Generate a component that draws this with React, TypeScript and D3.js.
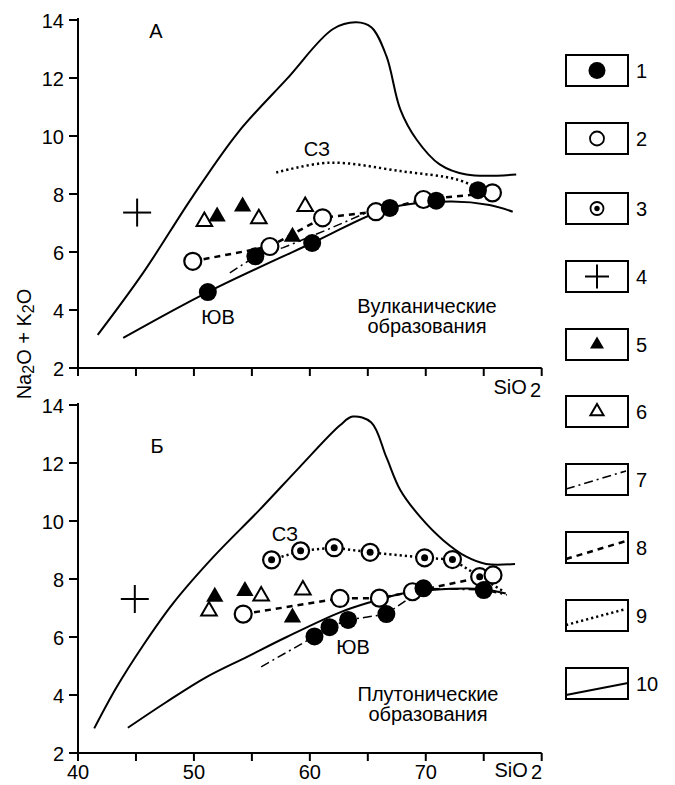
import React from 'react';
import * as d3 from 'd3';

// SiO2, Na2O+K2O
// panel A (volcanic)
const aClosed = [[51.2, 4.62], [55.3, 5.85], [60.2, 6.31], [66.9, 7.52], [70.9, 7.77], [74.5, 8.13]];
const aOpen = [[49.9, 5.68], [56.55, 6.19], [61.1, 7.18], [65.7, 7.39], [69.8, 7.81], [75.75, 8.04]];
const aTriFill = [[52.0, 7.22], [54.2, 7.57], [58.5, 6.53]];
const aTriOpen = [[50.9, 7.05], [55.6, 7.15], [59.6, 7.57]];
const aCross = [[45.1, 7.36]];
const aEnvelope = [[41.7, 3.14], [45.6, 5.27], [49.9, 7.92], [53.8, 10.12], [58.0, 11.96], [62.0, 13.69], [64.0, 13.92],
  [65.3, 13.75], [66.6, 12.76], [67.8, 10.92], [69.2, 9.88], [71.2, 9.02], [73.5, 8.67], [77.8, 8.67]];
const aSolid = [[43.9, 3.04], [51.2, 4.62], [60.2, 6.31], [66.9, 7.52], [72.1, 7.74], [75.5, 7.62], [77.5, 7.39]];
const aDashDot = [[53.1, 5.28], [55.3, 5.85], [57.7, 6.15], [61.5, 6.77], [64.9, 7.36]];
const aDotted = [[57.1, 8.74], [61.7, 9.08], [67.8, 8.79], [72.7, 8.5], [74.4, 8.22]];

// panel Б (plutonic)
const bClosed = [[60.4, 6.02], [61.7, 6.34], [63.3, 6.59], [66.6, 6.79], [69.8, 7.68], [75.0, 7.62]];
const bOpen = [[54.25, 6.79], [62.6, 7.33], [66.0, 7.34], [68.85, 7.56], [75.8, 8.14]];
const bBull = [[56.7, 8.66], [59.2, 8.97], [62.1, 9.08], [65.2, 8.92], [69.9, 8.73], [72.3, 8.67], [74.65, 8.08]];
const bTriFill = [[51.8, 7.39], [54.4, 7.59], [58.5, 6.67]];
const bTriOpen = [[51.3, 6.9], [55.8, 7.41], [59.4, 7.62]];
const bCross = [[44.9, 7.31]];
const bEnvelope = [[41.4, 2.85], [43.3, 4.25], [45.6, 5.7], [48.2, 7.16], [51.7, 8.77], [55.7, 10.4], [59.1, 11.85],
  [62.6, 13.3], [63.7, 13.6], [65.3, 13.4], [66.6, 12.2], [67.8, 11.07], [69.5, 10.15], [71.5, 9.34],
  [73.5, 8.77], [75.2, 8.52], [77.7, 8.52]];
const bSolid = [[44.3, 2.87], [47.6, 3.75], [51.0, 4.6], [54.5, 5.3], [58.0, 6.0], [62.6, 6.85], [65.2, 7.2],
  [68.0, 7.5], [70.5, 7.62], [74.9, 7.65], [76.9, 7.5]];
const bDashDot = [[55.8, 4.97], [60.4, 6.02], [61.7, 6.34], [63.3, 6.59], [66.6, 6.79], [69.8, 7.68], [75.0, 7.62], [77.0, 7.45]];
const bDashed = [[54.25, 6.79], [62.6, 7.33], [66.0, 7.34], [68.85, 7.56], [75.8, 8.14]];
const bDotted = [[56.7, 8.66], [59.2, 8.97], [62.1, 9.08], [65.2, 8.92], [69.9, 8.73], [72.3, 8.67], [74.65, 8.08], [76.8, 7.55]];

const xTicks = [40, 45, 50, 55, 60, 65, 70, 75, 80];
const xLabels = [40, 50, 60, 70];
const yTicks = [2, 4, 6, 8, 10, 12, 14];
const legendLabels = ['1', '2', '3', '4', '5', '6', '7', '8', '9', '10'];

const W = 675, H = 785;
const font = 'Arial, "Liberation Sans", sans-serif';
const FS = 20;

const x = d3.scaleLinear().domain([40, 80]).range([78, 541.7]);
const yA = d3.scaleLinear().domain([2, 14]).range([368, 20]);
const yB = d3.scaleLinear().domain([2, 14]).range([753, 405]);

const DASH = '6,5';
const DOT = '2.2,3';
const DASHDOT = '9,4,2,4';

const tri = d3.symbol(d3.symbolTriangle, 130)()!;
const triOpen = d3.symbol(d3.symbolTriangle, 105)()!;
const triLeg = d3.symbol(d3.symbolTriangle, 85)()!;
const triLegOpen = d3.symbol(d3.symbolTriangle, 75)()!;

function Panel({ y, data, labels }: any) {
  const line = (pts: number[][], smooth = true) =>
    d3.line<number[]>().x(d => x(d[0])).y(d => y(d[1])).curve(smooth ? d3.curveCatmullRom : d3.curveLinear)(pts) || '';
  const y0 = y(2);
  return (
    <g>
      {/* axes */}
      <line x1={x(40)} x2={x(80)} y1={y0} y2={y0} stroke="#000" strokeWidth={2} />
      <line x1={x(40)} x2={x(40)} y1={y(14) - 2} y2={y0 + 1} stroke="#000" strokeWidth={2} />
      {xTicks.map(t => <line key={t} x1={x(t)} x2={x(t)} y1={y0} y2={y0 + 8} stroke="#000" strokeWidth={2} />)}
      {yTicks.map(t => (
        <g key={t}>
          <line x1={x(40) - 9} x2={x(40)} y1={y(t)} y2={y(t)} stroke="#000" strokeWidth={2} />
          <text x={x(40) - 14} y={y(t) + 7.5} textAnchor="end" fontSize={FS}>{t}</text>
        </g>
      ))}
      {/* curves */}
      <path d={line(data.envelope)} fill="none" stroke="#000" strokeWidth={2} />
      <path d={line(data.solid)} fill="none" stroke="#000" strokeWidth={2} />
      {data.dashdot && <path d={line(data.dashdot, false)} fill="none" stroke="#000" strokeWidth={1.5} strokeDasharray={DASHDOT} />}
      {data.dashed && <path d={line(data.dashed, false)} fill="none" stroke="#000" strokeWidth={2.5} strokeDasharray={DASH} />}
      {data.dotted && <path d={line(data.dotted, !data.bull)} fill="none" stroke="#000" strokeWidth={2.5} strokeDasharray={DOT} />}
      {/* markers */}
      {data.cross.map((d: number[], i: number) => (
        <g key={i} stroke="#000" strokeWidth={2}>
          <line x1={x(d[0]) - 14} x2={x(d[0]) + 14} y1={y(d[1])} y2={y(d[1])} />
          <line x1={x(d[0])} x2={x(d[0])} y1={y(d[1]) - 14} y2={y(d[1]) + 14} />
        </g>
      ))}
      {data.triOpen.map((d: number[], i: number) => (
        <path key={i} d={triOpen} transform={`translate(${x(d[0])},${y(d[1])})`} fill="#fff" stroke="#000" strokeWidth={2} />
      ))}
      {data.triFill.map((d: number[], i: number) => (
        <path key={i} d={tri} transform={`translate(${x(d[0])},${y(d[1])})`} fill="#000" />
      ))}
      {data.bull && data.bull.map((d: number[], i: number) => (
        <g key={i}>
          <circle cx={x(d[0])} cy={y(d[1])} r={8.5} fill="#fff" stroke="#000" strokeWidth={2.2} />
          <circle cx={x(d[0])} cy={y(d[1])} r={3.5} fill="#000" />
        </g>
      ))}
      {data.open.map((d: number[], i: number) => (
        <circle key={i} cx={x(d[0])} cy={y(d[1])} r={8.5} fill="#fff" stroke="#000" strokeWidth={2.2} />
      ))}
      {data.closed.map((d: number[], i: number) => (
        <circle key={i} cx={x(d[0])} cy={y(d[1])} r={9} fill="#000" />
      ))}
      {labels}
    </g>
  );
}

function Legend() {
  const x0 = 566, w = 62, h = 31;
  const tops = [55, 123, 193, 261, 329, 396, 464, 532, 600, 668];
  return (
    <g>
      {tops.map((t, i) => {
        const cx = x0 + w / 2, cy = t + h / 2;
        let mark: any = null;
        if (i === 0) mark = <circle cx={cx} cy={cy} r={8.5} fill="#000" />;
        if (i === 1) mark = <circle cx={cx} cy={cy} r={7} fill="#fff" stroke="#000" strokeWidth={1.8} />;
        if (i === 2) mark = (<g><circle cx={cx} cy={cy} r={6.5} fill="#fff" stroke="#000" strokeWidth={1.8} /><circle cx={cx} cy={cy} r={2.7} fill="#000" /></g>);
        if (i === 3) mark = (<g stroke="#000" strokeWidth={2}><line x1={cx - 12} x2={cx + 12} y1={cy} y2={cy} /><line x1={cx} x2={cx} y1={cy - 12} y2={cy + 12} /></g>);
        if (i === 4) mark = <path d={triLeg} transform={`translate(${cx},${cy})`} fill="#000" />;
        if (i === 5) mark = <path d={triLegOpen} transform={`translate(${cx},${cy})`} fill="#fff" stroke="#000" strokeWidth={2} />;
        if (i === 6) mark = <line x1={x0} y1={t + h - 6} x2={x0 + w - 2} y2={t + 7} stroke="#000" strokeWidth={1.6} strokeDasharray={DASHDOT} />;
        if (i === 7) mark = <line x1={x0} y1={t + h - 4} x2={x0 + w - 2} y2={t + 9} stroke="#000" strokeWidth={2.5} strokeDasharray={DASH} />;
        if (i === 8) mark = <line x1={x0} y1={t + h - 6} x2={x0 + w - 2} y2={t + 9} stroke="#000" strokeWidth={2.5} strokeDasharray={DOT} />;
        if (i === 9) mark = <line x1={x0} y1={t + h - 4} x2={x0 + w} y2={t + 15} stroke="#000" strokeWidth={2} />;
        return (
          <g key={i}>
            <rect x={x0} y={t} width={w} height={h} fill="#fff" stroke="#000" strokeWidth={2} />
            {mark}
            <text x={x0 + w + 8} y={cy + 7} fontSize={FS}>{legendLabels[i]}</text>
          </g>
        );
      })}
    </g>
  );
}

export default function App() {
  const aData = { envelope: aEnvelope, solid: aSolid, dashdot: aDashDot, dashed: aOpen, dotted: aDotted,
    closed: aClosed, open: aOpen, triFill: aTriFill, triOpen: aTriOpen, cross: aCross };
  const bData = { envelope: bEnvelope, solid: bSolid, dashdot: bDashDot, dashed: bDashed, dotted: bDotted, bull: bBull,
    closed: bClosed, open: bOpen, triFill: bTriFill, triOpen: bTriOpen, cross: bCross };
  return (
    <svg width={W} height={H} style={{ position: 'absolute', left: 0, top: 0, background: '#fff' }}
      fontFamily={font} fill="#000">
      <Panel y={yA} data={aData} labels={
        <g fontSize={FS}>
          <text x={156} y={38} textAnchor="middle">А</text>
          <text x={317} y={156} textAnchor="middle">СЗ</text>
          <text x={218} y={324} textAnchor="middle">ЮВ</text>
          <text x={427} y={313} textAnchor="middle">Вулканические</text>
          <text x={427} y={333} textAnchor="middle">образования</text>
          <text x={541} y={394} textAnchor="end">SiO<tspan dx={3} dy={3}>2</tspan></text>
        </g>
      } />
      <Panel y={yB} data={bData} labels={
        <g fontSize={FS}>
          <text x={157} y={453} textAnchor="middle">Б</text>
          <text x={285} y={541} textAnchor="middle">СЗ</text>
          <text x={353} y={654} textAnchor="middle">ЮВ</text>
          <text x={428} y={701} textAnchor="middle">Плутонические</text>
          <text x={428} y={721} textAnchor="middle">образования</text>
          {xLabels.map(t => <text key={t} x={x(t)} y={779} textAnchor="middle">{t}</text>)}
          <text x={542} y={777} textAnchor="end">SiO<tspan dx={3} dy={2}>2</tspan></text>
        </g>
      } />
      <text transform="translate(31,344) rotate(-90)" textAnchor="middle" fontSize={FS}>
        Na<tspan fontSize={16} dy={3}>2</tspan><tspan dy={-3}>O + K</tspan><tspan fontSize={16} dy={3}>2</tspan><tspan dy={-3}>O</tspan>
      </text>
      <Legend />
    </svg>
  );
}
